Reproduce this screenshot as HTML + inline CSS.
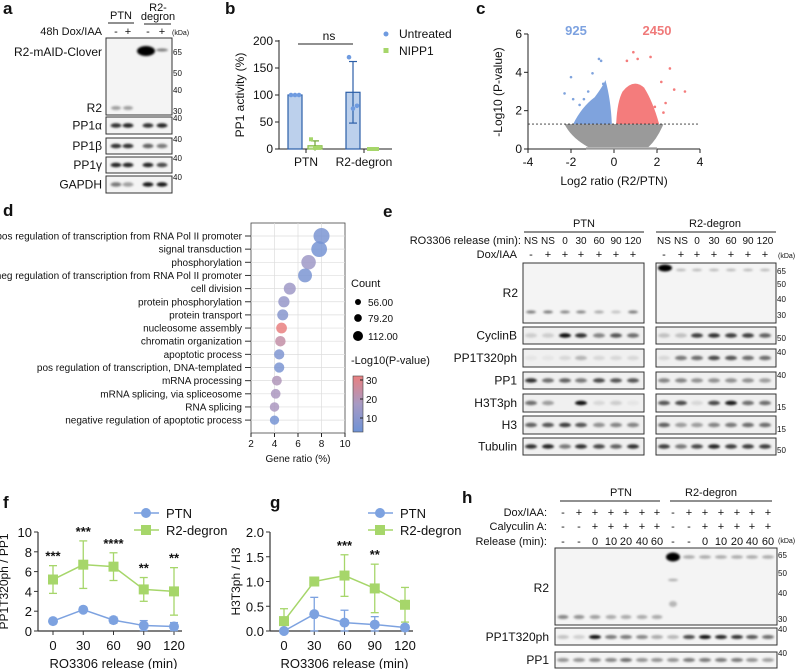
<!DOCTYPE html>
<html><head><meta charset="utf-8"><style>
body{margin:0;background:#fff}
svg{display:block;font-family:"Liberation Sans",sans-serif}
text{fill:#111}
</style></head><body>
<svg id="s" width="800" height="669" viewBox="0 0 800 669" xmlns="http://www.w3.org/2000/svg">
<defs>
<filter id="bl" x="-50%" y="-100%" width="200%" height="300%"><feGaussianBlur stdDeviation="1.1"/></filter>
<linearGradient id="cg" x1="0" y1="1" x2="0" y2="0"><stop offset="0" stop-color="#6f93d6"/><stop offset="0.5" stop-color="#a79ac4"/><stop offset="1" stop-color="#e98080"/></linearGradient>
</defs>
<g id="root"></g>
</svg>
<script>
// ---------- data ----------
// panel b
const bGroups=["PTN","R2-degron"];
const bUntreated=[100,105]; const bUntreatedErr=[0,57];
const bNipp=[6,0]; const bNippErr=[9,0];
const bUntreatedPts=[[100,100,100],[170,75,80]];
const bNippPts=[[18,2,2],[0,0,0]];
// panel c outliers
const cBlueX=[-2.0,-2.3,-1.9,-0.7,-0.6,-1.0,-0.5,-1.4,-1.6,-1.2];
const cBlueY=[3.75,2.9,2.6,4.7,4.6,3.95,3.4,2.6,2.3,3.0];
const cRedX=[0.6,1.1,1.7,2.6,3.3,2.2,2.8,0.9,2.4,1.9,2.3];
const cRedY=[4.6,4.7,4.8,4.2,3.0,3.5,3.1,5.05,2.4,2.2,1.9];
// panel d
const dTerms=["pos regulation of transcription from RNA Pol II promoter","signal transduction","phosphorylation","neg regulation of transcription from RNA Pol II promoter","cell division","protein phosphorylation","protein transport","nucleosome assembly","chromatin organization","apoptotic process","pos regulation of transcription, DNA-templated","mRNA processing","mRNA splicing, via spliceosome","RNA splicing","negative regulation of apoptotic process"];
const dRatio=[8.0,7.8,6.9,6.6,5.3,4.8,4.7,4.6,4.5,4.4,4.4,4.2,4.1,4.0,4.0];
const dCount=[112,110,100,95,80,74,72,70,68,66,66,63,62,60,58];
const dLogP=[5,4,14,5,14,12,8,30,22,6,5,18,17,17,4];
// panel f
const tCats=[0,30,60,90,120];
const fPtn=[1.0,2.15,1.1,0.55,0.45]; const fPtnErr=[0.1,0.15,0.3,0.5,0.4];
const fR2=[5.2,6.7,6.5,4.2,4.0]; const fR2Err=[1.4,2.4,1.4,1.2,2.4];
const fStars=["***","***","****","**","**"];
// panel g
const gPtn=[0,0.34,0.17,0.13,0.07]; const gPtnErr=[0,0.34,0.25,0.16,0.05];
const gR2=[0.2,1.0,1.12,0.86,0.53]; const gR2Err=[0.25,0,0.42,0.49,0.35];
const gStars=["","","***","**",""];

// ---------- helpers ----------
const NS="http://www.w3.org/2000/svg";
const root=document.getElementById('root');
function el(tag,attrs,parent,txt){const e=document.createElementNS(NS,tag);for(const k in attrs)e.setAttribute(k,attrs[k]);if(txt!==undefined)e.textContent=txt;(parent||root).appendChild(e);return e;}
function T(x,y,s,opt){opt=opt||{};const e=el('text',{x:x,y:y,'font-size':opt.fs||11,'text-anchor':opt.a||'start','font-weight':opt.w||'normal'},opt.p,s);if(opt.fill)e.setAttribute('style','fill:'+opt.fill);if(opt.rot)e.setAttribute('transform','rotate(-90 '+x+' '+y+')');


return e;}
function L(x1,y1,x2,y2,c,w,p,d){const e=el('line',{x1:x1,y1:y1,x2:x2,y2:y2,stroke:c||'#222','stroke-width':w||1},p);if(d)e.setAttribute('stroke-dasharray',d);return e;}

// panel letters
[["a",3,14],["b",225,14],["c",476,14],["d",3,216],["e",383,217],["f",3,508],["g",270,508],["h",462,503]].forEach(l=>{T(l[1],l[2],l[0],{fs:17,w:'bold',n:'panel-letter-'+l[0]});});

// ---------- blot helper ----------
function blot(name,x0,x1,y0,y1,lanes,bandY,ints,bw,bh,bg){
  const g=el('g',{});
  
  
  el('rect',{x:x0,y:y0,width:x1-x0,height:y1-y0,fill:bg||'#f4f4f4',stroke:'#333','stroke-width':1},g);
  lanes.forEach((lx,i)=>{const v=ints[i];if(v<=0)return;
    const b=el('ellipse',{cx:lx,cy:bandY,rx:bw||6,ry:(bh||2.2),fill:'#000','fill-opacity':v,filter:'url(#bl)'},g);
    
    
  });
  return g;
}
function band(g,x,y,rx,ry,v){const b=el('ellipse',{cx:x,cy:y,rx:rx,ry:ry,fill:'#000','fill-opacity':v,filter:'url(#bl)'},g);}

// ---------- panel a ----------
const aL=[116,128,148,162];
T(121,19,"PTN",{a:'middle',fs:11,n:'ptn-header'});L(108,23,134,23);
T(158,11,"R2-",{a:'middle',fs:11,n:'r2-header'});T(158,20,"degron",{a:'middle',fs:11,n:'r2-header'});L(144,24,171,24);
T(102,35,"48h Dox/IAA",{a:'end',n:'dox-label'});
["-","+","-","+"].forEach((s,i)=>T(aL[i],35,s,{a:'middle',n:'lane-sign'}));
T(172,35,"(kDa)",{fs:7,n:'kda-label'});
let ga=blot('blot-r2-clover',106,172,38,115,aL,108,[0.35,0.35,0,0],5,2);
band(ga,146,51,9,5,1);band(ga,162,50,6,1.5,0.5);
[["65",52],["50",73],["40",90],["30",111]].forEach(k=>{T(173,k[1]+3,k[0],{fs:8,n:'kda-marker'});});
T(102,56,"R2-mAID-Clover",{a:'end',fs:12,n:'row-label'});T(102,112,"R2",{a:'end',fs:12,n:'row-label'});
[["PP1α",117,134,[0.8,0.85,0.8,0.85]],["PP1β",138,154,[0.8,0.8,0.6,0.5]],["PP1γ",157,173,[0.85,0.85,0.85,0.7]],["GAPDH",176,193,[0.5,0.35,0.9,0.9]]].forEach(r=>{
 blot('blot-'+r[0],106,172,r[1],r[2],aL,(r[1]+r[2])/2,r[3],5.5,2.2);
 T(102,(r[1]+r[2])/2+4,r[0],{a:'end',fs:12,n:'row-label'});T(173,r[1]+4,"40",{fs:8,n:'kda-marker'});
});

// ---------- panel b ----------
const bx0=279,by0=149,byK=108/200;
const by=v=>by0-v*byK;
L(bx0,40,bx0,by0);L(bx0,by0,392,by0);
[0,50,100,150,200].forEach(v=>{L(bx0-4,by(v),bx0,by(v));T(bx0-6,by(v)+4,String(v),{a:'end',fs:12,n:'y-tick'});});
T(244,95,"PP1 activity (%)",{a:'middle',fs:12,rot:1,n:'y-axis-title'});
const bCenters=[306,364];
bGroups.forEach((gname,i)=>{const c=bCenters[i];L(c,by0,c,by0+4);T(c,166,gname,{a:'middle',fs:12,n:'x-tick'});
 const ux=c-11,nx=c+9;
 const r=el('rect',{x:ux-7,y:by(bUntreated[i]),width:14,height:by0-by(bUntreated[i]),fill:'#bcd0ec',stroke:'#2b5ea8','stroke-width':1.2});
 
 if(bUntreatedErr[i]){L(ux,by(bUntreated[i]-bUntreatedErr[i]),ux,by(bUntreated[i]+bUntreatedErr[i]),'#2b5ea8',1.2);L(ux-4,by(bUntreated[i]+bUntreatedErr[i]),ux+4,by(bUntreated[i]+bUntreatedErr[i]),'#2b5ea8',1.2);L(ux-4,by(bUntreated[i]-bUntreatedErr[i]),ux+4,by(bUntreated[i]-bUntreatedErr[i]),'#2b5ea8',1.2);}
 bUntreatedPts[i].forEach((p,j)=>{const d=el('circle',{cx:ux-4+j*4,cy:by(p),r:2.3,fill:'#6f9be0'});});
 const r2=el('rect',{x:nx-7,y:by(bNipp[i]),width:14,height:by0-by(bNipp[i]),fill:'#d7ecbb',stroke:'#8cc04b','stroke-width':1.2});
 
 if(bNippErr[i]){L(nx,by(bNipp[i]-bNippErr[i]),nx,by(bNipp[i]+bNippErr[i]),'#6ea332',1.2);L(nx-4,by(bNipp[i]+bNippErr[i]),nx+4,by(bNipp[i]+bNippErr[i]),'#6ea332',1.2);}
 bNippPts[i].forEach((p,j)=>{const d=el('rect',{x:nx-6+j*4,y:by(p)-2,width:4,height:4,fill:'#a6d66a'});});
});
L(298,44,353,44);T(329,40,"ns",{a:'middle',fs:12,n:'ns-label'});
el('circle',{cx:386,cy:34,r:2.5,fill:'#6f9be0'});T(399,38,"Untreated",{fs:12,n:'legend-untreated'});
el('rect',{x:383.5,y:48,width:5,height:5,fill:'#a6d66a'});T(399,55,"NIPP1",{fs:12,n:'legend-nipp1'});

// ---------- panel c ----------
const cx=v=>614+v*21.5, cy=v=>149-v*19.17;
L(528,34,528,149);L(528,149,700,149);
[0,2,4,6].forEach(v=>{L(524,cy(v),528,cy(v));T(522,cy(v)+4,String(v),{a:'end',fs:12,n:'y-tick'});});
[-4,-2,0,2,4].forEach(v=>{L(cx(v),149,cx(v),153);T(cx(v),166,String(v),{a:'middle',fs:12,n:'x-tick'});});
T(502,92,"-Log10 (P-value)",{a:'middle',fs:12,rot:1,n:'y-axis-title'});
T(614,185,"Log2 ratio (R2/PTN)",{a:'middle',fs:12,n:'x-axis-title'});
T(576,35,"925",{a:'middle',fs:13,w:'bold',fill:'#7da2e0',n:'down-count'});
T(657,35,"2450",{a:'middle',fs:13,w:'bold',fill:'#f07a7a',n:'up-count'});
const grey=el('path',{d:`M${cx(-2.3)},${cy(1.3)} L${cx(2.3)},${cy(1.3)} Q${cx(2.0)},${cy(0.5)} ${cx(1.6)},${cy(0.1)} L${cx(-1.2)},${cy(0.1)} Q${cx(-2.0)},${cy(0.6)} ${cx(-2.3)},${cy(1.3)}Z`,fill:'#9a9a9a'});

L(cx(-1.3),cy(0.03),cx(2.0),cy(0.03),'#9a9a9a',2);
const blue=el('path',{d:`M${cx(-1.9)},${cy(1.3)} Q${cx(-1.5)},${cy(2.2)} ${cx(-0.9)},${cy(2.7)} Q${cx(-0.5)},${cy(3.3)} ${cx(-0.4)},${cy(3.6)} Q${cx(-0.15)},${cy(2.6)} ${cx(-0.1)},${cy(1.3)}Z`,fill:'#7fa3dd'});

const red=el('path',{d:`M${cx(0.1)},${cy(1.3)} Q${cx(0.15)},${cy(2.5)} ${cx(0.4)},${cy(3.0)} Q${cx(0.9)},${cy(3.7)} ${cx(1.4)},${cy(3.2)} Q${cx(1.8)},${cy(2.5)} ${cx(2.1)},${cy(1.3)}Z`,fill:'#f47c7c'});

cBlueX.forEach((v,i)=>{const d=el('circle',{cx:cx(v),cy:cy(cBlueY[i]),r:1.3,fill:'#7fa3dd'});});
cRedX.forEach((v,i)=>{const d=el('circle',{cx:cx(v),cy:cy(cRedY[i]),r:1.3,fill:'#f47c7c'});});
L(528,cy(1.3),700,cy(1.3),'#333',0.8,null,'2,2');

// ---------- panel d ----------
const dx=v=>251+(v-2)*(94/8), dy=i=>236+i*13.15;
el('rect',{x:251,y:223,width:94,height:210,fill:'#fff',stroke:'#444','stroke-width':0.8});
dTerms.forEach((t,i)=>L(251,dy(i),345,dy(i),'#ddd',0.7));
[4,6,8].forEach(v=>L(dx(v),223,dx(v),433,'#ddd',0.7));
function pcol(p){const t=Math.min(1,Math.max(0,(p-2)/28));const a=[111,147,214],m=[167,154,196],b=[233,128,128];let c;if(t<0.5){const u=t*2;c=a.map((x,k)=>x+(m[k]-x)*u);}else{const u=(t-0.5)*2;c=m.map((x,k)=>x+(b[k]-x)*u);}return 'rgb('+c.map(Math.round).join(',')+')';}
dTerms.forEach((t,i)=>{L(245,dy(i),251,dy(i),'#333');T(242,dy(i)+3.5,t,{a:'end',fs:10,n:'term-label'});
 const c=el('circle',{cx:dx(dRatio[i]),cy:dy(i),r:4.5+(dCount[i]-56)/56*3.5,fill:pcol(dLogP[i]),'fill-opacity':0.85});
 });
[2,4,6,8,10].forEach(v=>{L(dx(v),433,dx(v),437);T(dx(v),447,String(v),{a:'middle',fs:10,n:'x-tick'});});
T(298,462,"Gene ratio (%)",{a:'middle',fs:10,n:'x-axis-title'});
T(351,287,"Count",{fs:11,n:'legend-count-title'});
[[56,302,"56.00"],[79.2,318,"79.20"],[112,336,"112.00"]].forEach(k=>{el('circle',{cx:358,cy:k[1],r:3+(k[0]-56)/56*2});T(368,k[1]+4,k[2],{fs:10,n:'legend-count'});});
T(351,364,"-Log10(P-value)",{fs:11,n:'legend-p-title'});
el('rect',{x:353,y:376,width:10,height:56,fill:'url(#cg)',stroke:'#444','stroke-width':0.6});
[[30,380],[20,399],[10,418]].forEach(k=>{L(360,k[1],363,k[1]);T(366,k[1]+4,String(k[0]),{fs:10,n:'legend-p-tick'});});

// ---------- panel e ----------
const eP=[531,548,565,581,599,616,633], eR=[664,681,697,714,731,748,765];
T(584,227,"PTN",{a:'middle',fs:11,n:'ptn-header'});L(524,232,644,232);
T(715,227,"R2-degron",{a:'middle',fs:11,n:'r2-header'});L(656,232,776,232);
T(521,244,"RO3306 release (min):",{a:'end',fs:11,n:'release-label'});
T(517,258,"Dox/IAA",{a:'end',fs:11,n:'dox-label'});
const eRel=["NS","NS","0","30","60","90","120"],eDox=["-","+","+","+","+","+","+"];
[eP,eR].forEach(ls=>ls.forEach((x,i)=>{T(x,244,eRel[i],{a:'middle',fs:10,n:'lane-release'});T(x,258,eDox[i],{a:'middle',fs:11,n:'lane-sign'});}));
T(778,258,"(kDa)",{fs:7,n:'kda-label'});
let ge1=blot('blot-e-r2-ptn',523,644,263,323,eP,312,[0.5,0.5,0.45,0.45,0.3,0.2,0.5],5,1.5);
let ge2=blot('blot-e-r2-degron',656,776,263,323,eR,330,[0,0,0,0,0,0,0],5,1.5);
band(ge2,665,268,7,3.5,1);[681,697,714,731,748,765].forEach(x=>band(ge2,x,270,5,1.2,0.25));
[["65",271],["50",284],["40",299],["30",315]].forEach(k=>T(777,k[1]+3,k[0],{fs:8,n:'kda-marker'}));
const eRows=[["CyclinB",327,344,[0.15,0.15,0.95,0.8,0.45,0.65,0.55],[0.2,0.2,0.75,0.8,0.75,0.75,0.6],"50",338],
["PP1T320ph",349,367,[0.05,0.05,0.1,0.25,0.1,0.1,0.1],[0.1,0.5,0.55,0.7,0.65,0.55,0.55],"40",352],
["PP1",372,389,[0.8,0.55,0.6,0.5,0.7,0.65,0.65],[0.45,0.45,0.4,0.4,0.4,0.4,0.35],"40",375],
["H3T3ph",394,412,[0.55,0.35,0,0.95,0.1,0.15,0.05],[0.65,0.7,0.1,0.7,0.9,0.55,0.55],"15",407],
["H3",416,434,[0.6,0.65,0.75,0.65,0.4,0.45,0.45],[0.6,0.35,0.35,0.45,0.5,0.55,0.55],"15",429],
["Tubulin",438,455,[0.8,0.85,0.5,0.8,0.7,0.6,0.8],[0.75,0.5,0.7,0.85,0.75,0.75,0.75],"50",450]];
eRows.forEach(r=>{const m=(r[1]+r[2])/2;blot('blot-e-'+r[0]+'-ptn',523,644,r[1],r[2],eP,m,r[3],6,2.2,'#f0f0f0');blot('blot-e-'+r[0]+'-r2',656,776,r[1],r[2],eR,m,r[4],6,2.2,'#f0f0f0');
 T(517,m+4,r[0],{a:'end',fs:12,n:'row-label'});T(777,r[6]+3,r[5],{fs:8,n:'kda-marker'});});
T(518,297,"R2",{a:'end',fs:12,n:'row-label'});

// ---------- line charts ----------
function lineChart(name,x0,xs,y0,yTop,ymax,ticks,tickFmt,ptn,ptnErr,r2,r2Err,stars,ylab,legX){
 const g=el('g',{});
 const X=i=>xs[0]+i*(xs[1]-xs[0])/4, Y=v=>y0-v/ymax*(y0-yTop);
 L(x0,yTop,x0,y0,'#333',1.2,g);L(x0,y0,xs[1]+8,y0,'#333',1.2,g);
 ticks.forEach(v=>{L(x0-4,Y(v),x0,Y(v),'#333',1,g);T(x0-6,Y(v)+5,tickFmt(v),{a:'end',fs:13,n:'y-tick',p:g});});
 tCats.forEach((c,i)=>{L(X(i),y0,X(i),y0+4,'#333',1,g);T(X(i),y0+19,String(c),{a:'middle',fs:13,n:'x-tick',p:g});});
 T((xs[0]+xs[1])/2,y0+37,"RO3306 release (min)",{a:'middle',fs:13,n:'x-axis-title',p:g});
 T(x0-30,(y0+yTop)/2,ylab,{a:'middle',fs:12,rot:1,n:'y-axis-title',p:g});
 [[r2,r2Err,'#a6d66a','sq'],[ptn,ptnErr,'#7da2e0','ci']].forEach(s=>{
  const pts=s[0].map((v,i)=>X(i)+','+Y(v)).join(' ');
  const pl=el('polyline',{points:pts,fill:'none',stroke:s[2],'stroke-width':1.5},g);
  s[0].forEach((v,i)=>{const e=s[1][i];if(e>0){L(X(i),Y(Math.max(0,v-e)),X(i),Y(v+e),s[2],1.3,g);L(X(i)-4,Y(v+e),X(i)+4,Y(v+e),s[2],1.3,g);L(X(i)-4,Y(Math.max(0,v-e)),X(i)+4,Y(Math.max(0,v-e)),s[2],1.3,g);}
   let m;if(s[3]==='sq')m=el('rect',{x:X(i)-5,y:Y(v)-5,width:10,height:10,fill:s[2]},g);else m=el('circle',{cx:X(i),cy:Y(v),r:5,fill:s[2]},g);
   });
 });
 stars.forEach((s,i)=>{if(s)T(X(i),Y(r2[i]+r2Err[i])-5,s,{a:'middle',fs:13,w:'bold',n:'significance',p:g});});
 L(legX,513,legX+25,513,'#7da2e0',1.5,g);el('circle',{cx:legX+12,cy:513,r:5,fill:'#7da2e0'},g);T(legX+32,518,"PTN",{fs:13,n:'legend-ptn',p:g});
 L(legX,530,legX+25,530,'#a6d66a',1.5,g);el('rect',{x:legX+7,y:525,width:10,height:10,fill:'#a6d66a'},g);T(legX+32,535,"R2-degron",{fs:13,n:'legend-r2',p:g});
}
lineChart('chart-f',38,[53,174],631,532,10,[0,2,4,6,8,10],v=>String(v),fPtn,fPtnErr,fR2,fR2Err,fStars,"PP1T320ph / PP1",134);
lineChart('chart-g',270,[284,405],631,532,2,[0,0.5,1,1.5,2],v=>v.toFixed(1),gPtn,gPtnErr,gR2,gR2Err,gStars,"H3T3ph / H3",368);

// ---------- panel h ----------
const hP=[563,579,595,611,626,642,657],hR=[673,689,705,721,737,752,768];
T(621,496,"PTN",{a:'middle',fs:11,n:'ptn-header'});L(560,501,660,501);
T(711,496,"R2-degron",{a:'middle',fs:11,n:'r2-header'});L(670,501,772,501);
T(547,516,"Dox/IAA:",{a:'end',fs:11,n:'dox-label'});T(547,530,"Calyculin A:",{a:'end',fs:11,n:'calyculin-label'});T(547,545,"Release (min):",{a:'end',fs:11,n:'release-label'});
const hDox=["-","+","+","+","+","+","+"],hCal=["-","-","+","+","+","+","+"],hRel=["-","-","0","10","20","40","60"];
[hP,hR].forEach(ls=>ls.forEach((x,i)=>{T(x,516,hDox[i],{a:'middle',fs:11,n:'lane-sign'});T(x,530,hCal[i],{a:'middle',fs:11,n:'lane-sign'});T(x,545,hRel[i],{a:'middle',fs:11,n:'lane-release'});}));
T(778,543,"(kDa)",{fs:7,n:'kda-label'});
let gh=blot('blot-h-r2',555,777,548,625,hP,617,[0.45,0.4,0.35,0.3,0.3,0.3,0.3],5.5,2);
band(gh,673,557,7,4.5,1);band(gh,673,580,5,1.2,0.3);band(gh,673,604,4,3,0.25);
[689,705,721,737,752,768].forEach(x=>band(gh,x,557,6,1.8,0.3));
[["65",555],["50",573],["40",593],["30",619]].forEach(k=>T(778,k[1]+3,k[0],{fs:8,n:'kda-marker'}));
T(549,592,"R2",{a:'end',fs:12,n:'row-label'});
blot('blot-h-pp1t320ph',555,777,628,645,hP.concat(hR),637,[0.2,0.15,0.95,0.5,0.5,0.45,0.3,0.25,0.7,0.95,0.85,0.8,0.65,0.55],6,2);
T(549,641,"PP1T320ph",{a:'end',fs:12,n:'row-label'});T(778,632,"40",{fs:8,n:'kda-marker'});
blot('blot-h-pp1',555,777,652,668,hP.concat(hR),660,[0.4,0.4,0.45,0.45,0.55,0.4,0.4,0.4,0.5,0.5,0.5,0.5,0.4,0.35],6,2);
T(549,664,"PP1",{a:'end',fs:12,n:'row-label'});T(778,656,"40",{fs:8,n:'kda-marker'});
</script>
</body></html>
